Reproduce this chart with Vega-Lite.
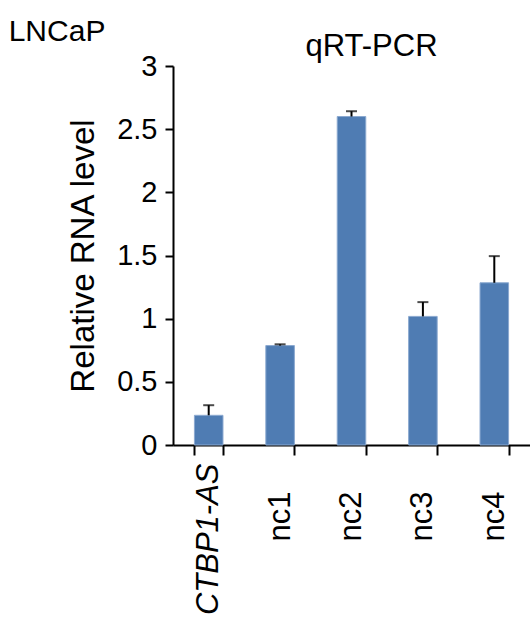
{
  "$schema": "https://vega.github.io/schema/vega-lite/v6.json",
  "background": "white",
  "padding": {"left": 8, "top": 17, "right": 0, "bottom": 0},
  "title": {"text": "LNCaP", "anchor": "start", "frame": "bounds", "dx": -59, "font": "Liberation Sans", "fontSize": 30, "fontWeight": "normal", "color": "black", "offset": -16},
  "config": {"view": {"stroke": null}, "font": "Liberation Sans"},
  "vconcat": [
    {
      "width": 357,
      "height": 379,
      "title": {"text": "qRT-PCR", "anchor": "middle", "frame": "group", "dx": 20, "font": "Liberation Sans", "fontSize": 31, "fontWeight": "normal", "color": "black", "offset": -11},
      "data": {"values": [
        {"sample": "CTBP1-AS", "value": 0.235, "upper": 0.315},
        {"sample": "nc1", "value": 0.787, "upper": 0.797},
        {"sample": "nc2", "value": 2.6, "upper": 2.642},
        {"sample": "nc3", "value": 1.018, "upper": 1.131},
        {"sample": "nc4", "value": 1.284, "upper": 1.495}
      ]},
      "encoding": {
        "x": {"field": "sample", "type": "nominal", "sort": null,
          "scale": {"paddingInner": 0.6, "paddingOuter": 0.3},
          "axis": {"title": null, "labelAngle": -90, "labelBaseline": "middle",
            "labelAlign": {"condition": {"test": "datum.value == 'CTBP1-AS'", "value": "right"}, "value": "center"},
            "labelPadding": {"condition": {"test": "datum.value == 'CTBP1-AS'", "value": 8}, "value": 61},
            "labelFont": "Liberation Sans", "labelFontSize": 31, "labelColor": "black",
            "labelFontStyle": {"condition": {"test": "datum.value == 'CTBP1-AS'", "value": "italic"}, "value": "normal"},
            "labelOverlap": false, "labelBound": false,
            "tickBand": "extent", "tickSize": 10, "tickWidth": 2, "tickColor": "black",
            "domainColor": "black", "domainWidth": 2}}
      },
      "layer": [
        {
          "mark": {"type": "bar", "color": "#4F7CB3", "stroke": "#8BA9D0", "strokeWidth": 1},
          "encoding": {
            "y": {"field": "value", "type": "quantitative",
              "scale": {"domain": [0, 3], "nice": false},
              "axis": {"title": "Relative RNA level", "values": [0, 0.5, 1, 1.5, 2, 2.5, 3], "format": "~g",
                "grid": false, "labelFont": "Liberation Sans", "labelFontSize": 29, "labelColor": "black",
                "labelPadding": 8, "tickSize": 8, "tickWidth": 2, "tickColor": "black",
                "domainColor": "black", "domainWidth": 2, "labelFlush": false,
                "titleFont": "Liberation Sans", "titleFontSize": 33, "titleFontWeight": "normal", "titleColor": "black", "titlePadding": 16}}
          }
        },
        {
          "mark": {"type": "rule", "color": "black", "strokeWidth": 2},
          "encoding": {
            "y": {"field": "value", "type": "quantitative"},
            "y2": {"field": "upper"}
          }
        },
        {
          "mark": {"type": "tick", "color": "black", "thickness": 2, "size": 11, "orient": "horizontal"},
          "encoding": {
            "y": {"field": "upper", "type": "quantitative"}
          }
        }
      ]
    }
  ]
}
